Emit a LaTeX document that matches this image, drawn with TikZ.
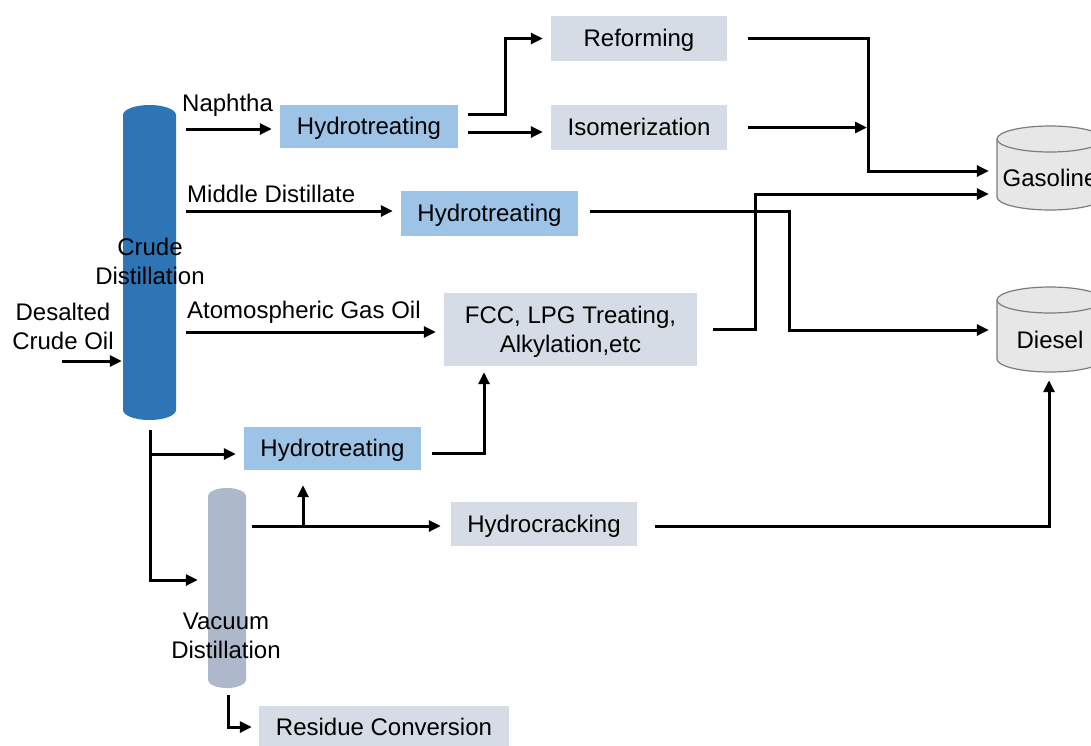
\documentclass[tikz,border=0pt]{standalone}
\usepackage{fontspec}
\setmainfont{Liberation Sans}
\usetikzlibrary{arrows.meta,calc}
\definecolor{crudeblue}{RGB}{46,117,182}
\definecolor{htblue}{RGB}{157,195,230}
\definecolor{boxgray}{RGB}{214,220,229}
\definecolor{vacgray}{RGB}{173,185,202}
\definecolor{tankfill}{RGB}{231,231,231}
\definecolor{tankline}{RGB}{125,125,125}
\begin{document}
\begin{tikzpicture}[x=1pt,y=-1pt,
  lbl/.style={font=\fontsize{24}{29}\selectfont, text=black, inner sep=0pt},
  onebox/.style={inner sep=0pt, font=\fontsize{24}{29}\selectfont, text height=21.7pt, text depth=5.1pt},
  htbox/.style={onebox, fill=htblue},
  graybox/.style={onebox, fill=boxgray},
  anchorbox/.style={inner sep=0pt},
  arr/.style={line width=3pt, -{Triangle[length=12pt,width=11pt]}, shorten >=8pt}
]
\useasboundingbox (0,0) rectangle (1091,745);
\clip (0,0) rectangle (1091,745);

% ---------- columns ----------
\node[anchorbox, minimum width=53pt, minimum height=315pt] (crude) at (149.5,262.5) {};
\fill[crudeblue] (123,115) arc[start angle=180,end angle=0,x radius=26.5pt,y radius=10pt]
  -- (176,410) arc[start angle=0,end angle=-180,x radius=26.5pt,y radius=10pt] -- cycle;
\node[lbl, align=center] (crudelbl) at (150,261) {Crude\\Distillation};

\node[anchorbox, minimum width=38pt, minimum height=200pt] (vac) at (227,588) {};
\fill[vacgray] (208,496) arc[start angle=180,end angle=0,x radius=19pt,y radius=8pt]
  -- (246,680) arc[start angle=0,end angle=-180,x radius=19pt,y radius=8pt] -- cycle;
\node[lbl, align=center] (vaclbl) at (226,636) {Vacuum\\Distillation};

% ---------- tanks ----------
\node[anchorbox, minimum width=106pt, minimum height=85pt] (gas) at (1050,167.5) {};
\filldraw[fill=tankfill, draw=tankline, line width=1.2pt]
  (997,139) arc[start angle=180,end angle=0,x radius=53pt,y radius=13pt]
  -- (1103,197) arc[start angle=0,end angle=-180,x radius=53pt,y radius=13pt] -- cycle;
\draw[tankline, line width=1.2pt] (997,139) arc[start angle=180,end angle=360,x radius=53pt,y radius=13pt];
\node[lbl] (gastxt) at (1050,178) {Gasoline};

\node[anchorbox, minimum width=106pt, minimum height=85pt] (dsl) at (1050,329.5) {};
\filldraw[fill=tankfill, draw=tankline, line width=1.2pt]
  (997,300) arc[start angle=180,end angle=0,x radius=53pt,y radius=13pt]
  -- (1103,359) arc[start angle=0,end angle=-180,x radius=53pt,y radius=13pt] -- cycle;
\draw[tankline, line width=1.2pt] (997,300) arc[start angle=180,end angle=360,x radius=53pt,y radius=13pt];
\node[lbl] (dsltxt) at (1050,340) {Diesel};

% ---------- process boxes ----------
\node[htbox, minimum width=178pt, minimum height=43pt] (ht1) at (369,126.5) {Hydrotreating};
\node[htbox, minimum width=177pt, minimum height=45pt] (ht2) at (489.5,213.5) {Hydrotreating};
\node[htbox, minimum width=177pt, minimum height=43pt] (ht3) at (332.5,448.5) {Hydrotreating};
\node[graybox, minimum width=176pt, minimum height=45pt] (ref) at (639,38.5) {Reforming};
\node[graybox, minimum width=176pt, minimum height=45pt] (iso) at (639,127.5) {Isomerization};
\node[anchorbox, fill=boxgray, minimum width=253pt, minimum height=73pt] (fcc) at (570.5,329.5) {};
\node[lbl, align=center] (fcctxt) at (570.5,332) {FCC, LPG Treating,\\Alkylation,etc};
\node[graybox, minimum width=186pt, minimum height=44pt] (hc) at (544,524) {Hydrocracking};
\node[graybox, minimum width=250pt, minimum height=42pt] (rc) at (384,727) {Residue Conversion};

% ---------- labels ----------
\node[lbl, align=center] (feed) at (63,326) {Desalted\\Crude Oil};
\node[lbl, anchor=west] (naph) at (182,105) {Naphtha};
\node[lbl, anchor=west] (mdl) at (187,193.5) {Middle Distillate};
\node[lbl, anchor=west] (agol) at (187,312) {Atomospheric Gas Oil};

% ---------- coordinates ----------
\coordinate (feedS) at (62,361);
\coordinate (naphS) at (186,129);
\coordinate (mdS) at (186,211);
\coordinate (agoS) at (186,332);
\coordinate (jr) at (505,114);
\coordinate (jg) at (868,171);
\coordinate (jd) at (789,330);
\coordinate (jf) at (755,194);
\coordinate (cb) at (150,430);
\coordinate (cb2) at (150,454);
\coordinate (cv) at (150,580);
\coordinate (jh) at (484,453);
\coordinate (vs) at (252,526);
\coordinate (vj) at (303,526);
\coordinate (jdd) at (1049,526);
\coordinate (vb) at (228,695);
\coordinate (vr) at (228,727);
\coordinate (ilo) at (468,132);

% ---------- connectors ----------
\draw[arr, shorten >=1pt] (feedS) -- (feedS -| crude.west);
\draw[arr] (naphS) -- (naphS -| ht1.west);
\draw[arr] ($(ht1.east)+(10,-12.5)$) -| (jr) |- (ref.west);
\draw[arr] (ilo) -- (ilo -| iso.west);
\draw[arr] ($(ref.east)+(21,0)$) -| (jg) -- (jg -| gas.west);
\draw[arr, shorten >=1pt] ($(iso.east)+(21,0)$) -- (jg |- iso.east);
\draw[arr] (mdS) -- (mdS -| ht2.west);
\draw[arr] ($(ht2.east)+(12,-2)$) -| (jd) -- (jd -| dsl.west);
\draw[arr] (agoS) -- (agoS -| fcc.west);
\draw[arr] ($(fcc.east)+(16,0)$) -| (jf) -- (jf -| gas.west);
\draw[arr, shorten >=10pt] (cb) -- (cv) -- (cv -| vac.west);
\draw[arr] (cb2) -- (cb2 -| ht3.west);
\draw[arr, shorten >=6pt] ($(ht3.east)+(11,4.5)$) -- (jh) -- (jh |- fcc.south);
\draw[arr, shorten >=10pt] (vs) -- (vs -| hc.west);
\draw[arr, shorten >=15pt] (vj) -- (vj |- ht3.south);
\draw[arr, shorten >=8pt] ($(hc.east)+(18,2)$) -- (jdd) -- (jdd |- dsl.south);
\draw[arr, shorten >=7pt] (vb) -- (vr) -- (vr -| rc.west);
\end{tikzpicture}
\end{document}
